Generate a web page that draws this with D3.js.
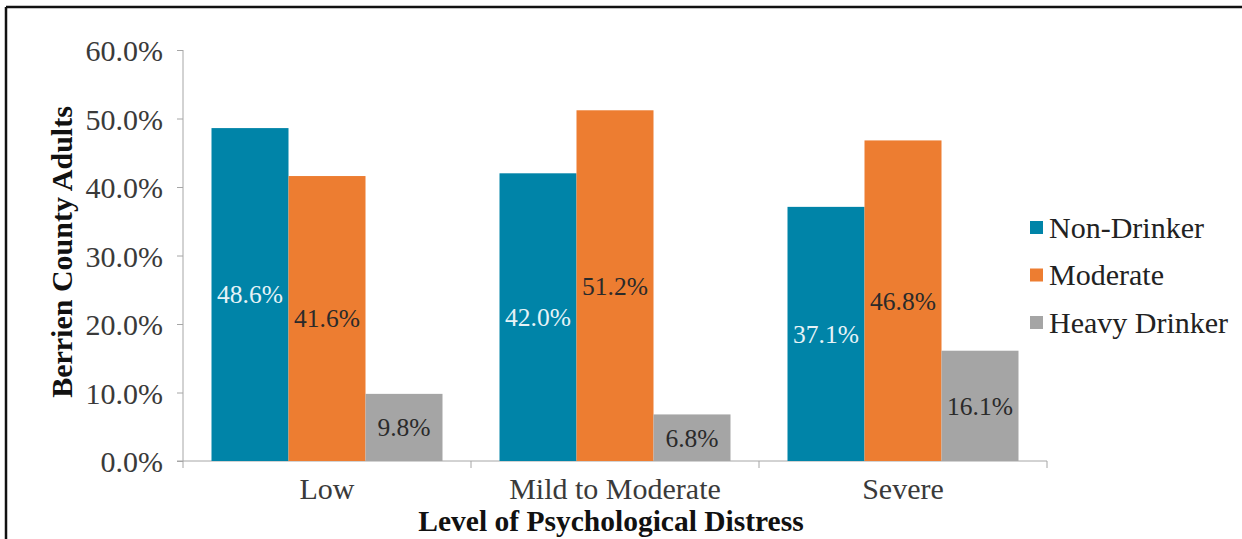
<!DOCTYPE html>
<html lang="en">
  <head>
    <meta charset="utf-8">
    <title>Berrien County Adults by Level of Psychological Distress</title>
    <style>
      body{ margin:0; background:#fff; }
      svg text{ font-family:"Liberation Serif","Times New Roman",serif !important; }
      .axis path, .axis line{ stroke:#a6a6a6; }
      .axis text{ fill:#3a3a3a; font-size:30px; }
    </style>
    <script type="text/javascript" src="https://cdn.jsdelivr.net/npm/d3@7/dist/d3.min.js"></script>
  </head>
  <body>
  <svg width="1242" height="539" font-family="Liberation Serif, serif"></svg>
    <script>
// data
var categories = ["Low", "Mild to Moderate", "Severe"];
var seriesNames = ["Non-Drinker", "Moderate", "Heavy Drinker"];
var nonDrinker = [48.6, 42.0, 37.1];
var moderate = [41.6, 51.2, 46.8];
var heavyDrinker = [9.8, 6.8, 16.1];
var yTicks = [0, 10, 20, 30, 40, 50, 60];
var colors = ["#0084a8", "#ed7d31", "#a5a5a5"];
var labelColors = ["#e6f3f7", "#2a2a2a", "#2a2a2a"];
var serif = "'Liberation Serif', 'Times New Roman', serif";

var svg = d3.select("svg");

// outer frame (left and top edges show)
svg.append("line").attr("x1", 6).attr("x2", 1242).attr("y1", 7).attr("y2", 7)
    .attr("stroke", "#111").attr("stroke-width", 2.5);
svg.append("line").attr("x1", 6).attr("x2", 6).attr("y1", 7).attr("y2", 539)
    .attr("stroke", "#111").attr("stroke-width", 2.5);

var plot = {left:183, right:1047, top:50, bottom:461};

var xScale = d3.scaleBand().domain(categories).range([plot.left, plot.right]);
var xInner = d3.scaleBand().domain(seriesNames)
    .range([28.5, xScale.bandwidth() - 28.5]);
var yScale = d3.scaleLinear().domain([0, 60]).range([plot.bottom, plot.top]);

// y axis
var yAxis = svg.append("g").attr("class", "axis")
    .attr("transform", "translate(" + plot.left + ",0)")
    .call(d3.axisLeft(yScale).tickValues(yTicks).tickSize(6).tickPadding(14)
      .tickFormat(function(d){ return d.toFixed(1) + "%"; }));
yAxis.attr("font-family", serif).attr("font-size", 30);
yAxis.select(".domain").attr("d", "M0," + plot.top + "V" + plot.bottom);
yAxis.selectAll("text").attr("dy", "0.35em");

// x axis, ticks at category boundaries
var xg = svg.append("g").attr("class", "axis");
xg.append("line").attr("x1", plot.left - 6).attr("x2", plot.right)
    .attr("y1", plot.bottom).attr("y2", plot.bottom);
var bounds = categories.map(function(c){ return xScale(c); }).concat([plot.right]);
xg.selectAll(".tk").data(bounds).enter().append("line")
    .attr("x1", function(d){ return d; }).attr("x2", function(d){ return d; })
    .attr("y1", plot.bottom).attr("y2", plot.bottom + 7);
xg.selectAll(".cat").data(categories).enter().append("text")
    .attr("x", function(d){ return xScale(d) + xScale.bandwidth() / 2; })
    .attr("y", 499)
    .attr("text-anchor", "middle")
    .style("font-family", serif)
    .text(function(d){ return d; });

// bars
var seriesData = [nonDrinker, moderate, heavyDrinker];
seriesNames.forEach(function(name, si){
  var grp = svg.append("g");
  var rows = categories.map(function(c, i){ return {cat:c, v:seriesData[si][i]}; });
  grp.selectAll("rect").data(rows).enter().append("rect")
      .attr("x", function(d){ return xScale(d.cat) + xInner(name); })
      .attr("width", xInner.bandwidth())
      .attr("y", function(d){ return yScale(d.v); })
      .attr("height", function(d){ return plot.bottom - yScale(d.v); })
      .attr("fill", colors[si]);
  grp.selectAll("text").data(rows).enter().append("text")
      .attr("x", function(d){ return xScale(d.cat) + xInner(name) + xInner.bandwidth() / 2; })
      .attr("y", function(d){ return (yScale(d.v) + plot.bottom) / 2; })
      .attr("dy", "0.35em")
      .attr("text-anchor", "middle")
      .attr("fill", labelColors[si])
      .style("font-family", serif)
      .style("font-size", "25.5px")
      .text(function(d){ return d.v.toFixed(1) + "%"; });
});

// legend
var legend = svg.append("g").attr("transform", "translate(1030,227)");
seriesNames.forEach(function(name, i){
  var row = legend.append("g").attr("transform", "translate(0," + (i * 47.5) + ")");
  row.append("rect").attr("x", 0).attr("y", -6).attr("width", 13).attr("height", 13)
      .attr("fill", colors[i]);
  row.append("text").attr("x", 19).attr("y", 0).attr("dy", "0.35em")
      .attr("fill", "#222")
      .style("font-family", serif).style("font-size", "30px").text(name);
});

// axis titles
svg.append("text")
    .attr("transform", "translate(72,252) rotate(-90)")
    .attr("text-anchor", "middle")
    .style("font-family", serif)
    .style("font-size", "30px").style("font-weight", "bold").attr("fill", "#111")
    .text("Berrien County Adults");
svg.append("text")
    .attr("x", 611).attr("y", 531)
    .attr("text-anchor", "middle")
    .style("font-family", serif)
    .style("font-size", "29.5px").style("font-weight", "bold").attr("fill", "#111")
    .text("Level of Psychological Distress");
    </script>
  </body>
</html>
